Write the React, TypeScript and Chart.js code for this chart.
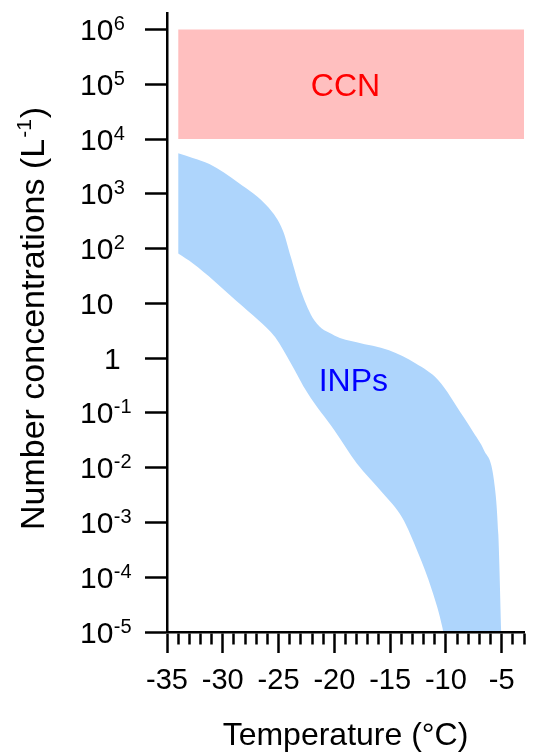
import React, { useEffect, useRef } from 'react';
import { Chart, registerables } from 'chart.js';

Chart.register(...registerables);

const FONT = '"Liberation Sans", Arial, Helvetica, sans-serif';

// ---- x axis: Temperature (°C) ----
const xMin = -35;
const xMax = -3;
const xTickValues = [-35, -34, -33, -32, -31, -30, -29, -28, -27, -26, -25, -24, -23, -22, -21, -20, -19, -18, -17, -16, -15, -14, -13, -12, -11, -10, -9, -8, -7, -6, -5, -4, -3];
const xLabeledTicks = [-35, -30, -25, -20, -15, -10, -5];

// ---- y axis: Number concentrations (L^-1), log ----
const yMin = 1e-5;
const yMax = 2e6;
const yTickExponents = [-5, -4, -3, -2, -1, 0, 1, 2, 3, 4, 5, 6];

// ---- CCN band ----
const ccnX = [-34, -3];
const ccnTop = [1e6, 1e6];
const ccnBottom = 1e4;

// ---- INP band: upper boundary (runs on below the axis floor) ----
const inpUpperX = [-34, -32.7, -31.2, -28.6, -25.9, -24.6, -23.9, -23.0, -21.8, -20.0, -18.0, -15.1, -12.7, -10.7, -8.4, -7.5, -6.6, -5.7, -5.3, -5.0];
const inpUpperY = [5500, 4500, 3500, 1600, 560, 210, 70, 17, 4.9, 2.6, 1.95, 1.4, 0.8, 0.4, 0.083, 0.043, 0.021, 0.006, 0.0006, 0.000005];

// ---- INP band: lower boundary (runs on below the axis floor) ----
const inpLowerX = [-34, -32.7, -30.8, -28.8, -26.8, -25.3, -23.9, -22.4, -20.0, -18.0, -15.65, -13.9, -12.5, -11.25, -10.3, -10.0, -5.0];
const inpLowerY = [81, 54, 26, 11.2, 4.9, 2.4, 0.81, 0.23, 0.048, 0.012, 0.0034, 0.0012, 0.00028, 0.000058, 0.0000117, 0.000005, 0.000005];

// ---- band labels ----
const labelTexts = ['CCN', 'INPs'];
const labelX = [-19, -18.3];
const labelY = [1e5, 0.4];

const CCN_COLOR = '#ffbfbf';
const INP_COLOR = '#aed5fc';
const labelColors = ['#ff0000', '#0000ff'];
const NONE = 'rgba(0,0,0,0)';
const AXIS_W = 2.5;

const textPlugin = {
  id: 'textPlugin',
  afterDraw(chart: any) {
    const { ctx, scales } = chart;
    const xs = scales.x;
    const ys = scales.y;
    ctx.save();
    ctx.fillStyle = '#000';
    ctx.textBaseline = 'alphabetic';
    ctx.textAlign = 'left';
    // y tick labels with superscripts
    for (const e of yTickExponents) {
      const py = ys.getPixelForValue(Math.pow(10, e));
      ctx.font = `30px ${FONT}`;
      if (e === 0) {
        ctx.fillText('1', 104, py + 10.5);
        continue;
      }
      ctx.fillText('10', 80, py + 10.5);
      if (e !== 1) {
        const w = ctx.measureText('10').width;
        ctx.font = `20px ${FONT}`;
        ctx.fillText(String(e), 80 + w + 0.5, py + 0.5);
      }
    }
    // y axis title
    ctx.save();
    ctx.translate(44, 530);
    ctx.rotate(-Math.PI / 2);
    ctx.font = `34px ${FONT}`;
    const main = 'Number concentrations (L';
    ctx.fillText(main, 0, 0);
    let w = ctx.measureText(main).width;
    ctx.font = `21px ${FONT}`;
    ctx.fillText('-1', w + 1, -13);
    w += 1 + ctx.measureText('-1').width;
    ctx.font = `34px ${FONT}`;
    ctx.fillText(')', w + 1, 0);
    ctx.restore();
    // band labels
    ctx.textAlign = 'center';
    ctx.textBaseline = 'alphabetic';
    ctx.font = `32px ${FONT}`;
    labelTexts.forEach((t, i) => {
      ctx.fillStyle = labelColors[i];
      ctx.fillText(t, xs.getPixelForValue(labelX[i]), ys.getPixelForValue(labelY[i]) + 0.358 * 32);
    });
    ctx.restore();
  },
};

export default function App() {
  const ref = useRef<HTMLCanvasElement>(null);
  useEffect(() => {
    const canvas = ref.current;
    if (!canvas) return;
    const chart = new Chart(canvas, {
      type: 'line',
      data: {
        datasets: [
          {
            label: 'CCN',
            data: ccnX.map((x, i) => ({ x, y: ccnTop[i] })),
            fill: { value: ccnBottom },
            backgroundColor: CCN_COLOR,
            borderColor: NONE,
            borderWidth: 0,
            pointRadius: 0,
            tension: 0,
          },
          {
            label: 'INPs upper',
            data: inpUpperX.map((x, i) => ({ x, y: inpUpperY[i] })),
            fill: '+1',
            backgroundColor: INP_COLOR,
            borderColor: NONE,
            borderWidth: 0,
            pointRadius: 0,
            cubicInterpolationMode: 'monotone',
          },
          {
            label: 'INPs lower',
            data: inpLowerX.map((x, i) => ({ x, y: inpLowerY[i] })),
            fill: false,
            backgroundColor: INP_COLOR,
            borderColor: NONE,
            borderWidth: 0,
            pointRadius: 0,
            cubicInterpolationMode: 'monotone',
          },
        ],
      },
      options: {
        animation: false,
        responsive: false,
        events: [],
        layout: { padding: { top: 13, right: 4, left: 0, bottom: 0 } },
        plugins: { legend: { display: false }, tooltip: { enabled: false } },
        scales: {
          x: {
            type: 'linear',
            min: xMin,
            max: xMax,
            afterBuildTicks: (s: any) => {
              s.ticks = xTickValues.map((v) => ({ value: v }));
            },
            afterFit: (s: any) => {
              s.height = 122;
            },
            ticks: {
              autoSkip: false,
              maxRotation: 0,
              padding: 11,
              color: '#000',
              font: { family: FONT, size: 29 },
              callback: (v: any) => (xLabeledTicks.includes(Number(v)) ? String(v) : ''),
            },
            grid: {
              drawOnChartArea: false,
              drawTicks: true,
              tickLength: 21,
              tickWidth: AXIS_W,
              tickColor: '#000',
              tickBorderDash: (c: any) =>
                c.tick && !xLabeledTicks.includes(c.tick.value) ? [11, 40] : [],
            },
            border: { display: true, color: '#000', width: AXIS_W, z: 1 },
            title: {
              display: true,
              text: 'Temperature (°C)',
              color: '#000',
              font: { family: FONT, size: 32, lineHeight: 1.1 },
              padding: { top: 0, bottom: 0 },
            },
          },
          y: {
            type: 'logarithmic',
            min: yMin,
            max: yMax,
            afterBuildTicks: (s: any) => {
              s.ticks = yTickExponents.map((e) => ({ value: Math.pow(10, e) }));
            },
            afterFit: (s: any) => {
              s.width = 167;
            },
            ticks: { autoSkip: false, callback: () => '' },
            grid: {
              drawOnChartArea: false,
              drawTicks: true,
              tickLength: 22,
              tickWidth: AXIS_W,
              tickColor: '#000',
            },
            border: { display: true, color: '#000', width: AXIS_W, z: 1 },
          },
        },
      } as any,
      plugins: [textPlugin],
    });
    return () => chart.destroy();
  }, []);
  return (
    <div style={{ position: 'fixed', left: 0, top: 0, width: 535, height: 754, background: '#fff' }}>
      <canvas ref={ref} width={535} height={754} style={{ display: 'block', width: 535, height: 754 }} />
    </div>
  );
}
